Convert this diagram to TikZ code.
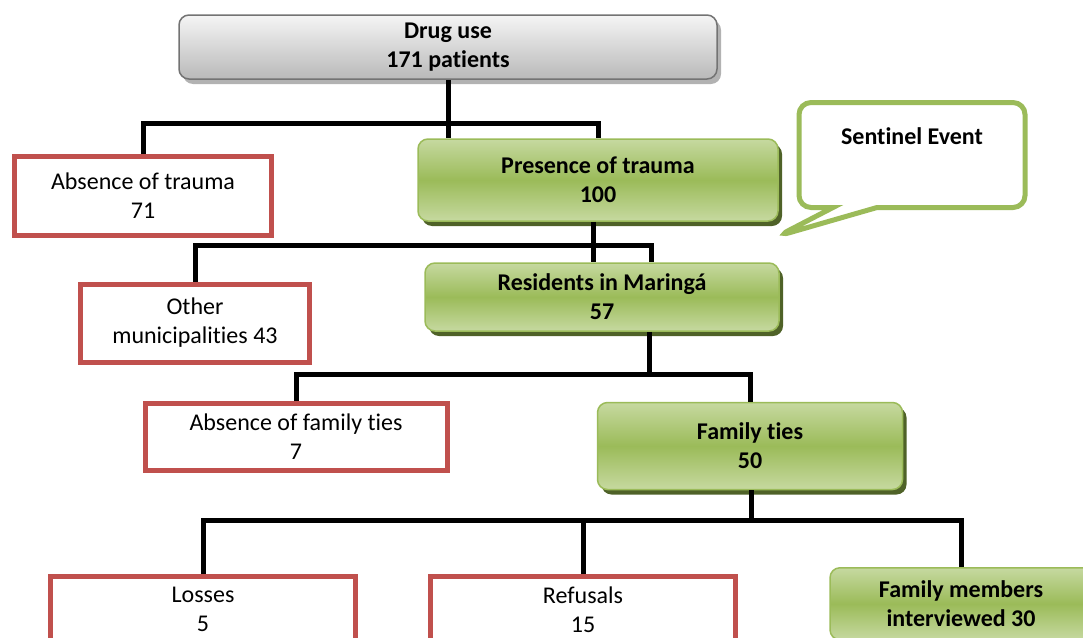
\documentclass[tikz,border=0pt]{standalone}
\usepackage{fontspec}
\setmainfont[Ligatures=NoCommon]{Carlito}
\usetikzlibrary{shapes.callouts, shadows, calc}
\definecolor{boxred}{HTML}{C0504D}
\definecolor{boxgreen}{HTML}{9BBB59}
\definecolor{lightgreen}{HTML}{C6D9A0}
\definecolor{darkgreen}{HTML}{4F6228}
\newcommand{\boxfont}{\fontsize{24}{29}\selectfont}
\tikzset{redbox/.style={draw=boxred, line width=5pt, fill=white, align=center}}
\tikzset{greenbox/.style={draw=boxgreen, line width=1.5pt, rounded corners=10pt, top color=lightgreen, bottom color=lightgreen, middle color=boxgreen, align=center, font=\boxfont\bfseries, drop shadow={shadow xshift=4pt, shadow yshift=-5pt, fill=darkgreen, opacity=1}}}
\tikzset{graybox/.style={draw=gray!90!black, line width=1.5pt, rounded corners=10pt, top color=gray!8, bottom color=gray!55, align=center, font=\boxfont\bfseries, drop shadow={shadow xshift=4pt, shadow yshift=-5pt, fill=gray!60, opacity=1}}}
\tikzset{sentinel/.style={rectangle callout, draw=boxgreen, line width=5pt, fill=white, rounded corners=12pt, font=\boxfont\bfseries}}
\tikzset{link/.style={line width=5pt, black}}

\begin{document}
\begin{tikzpicture}[x=1pt, y=-1pt, font=\boxfont]
\useasboundingbox (0,0) rectangle (1083,637);
\clip (0,0) rectangle (1083,637);

\node[graybox, minimum width=538pt, minimum height=64pt] (drug) at (448,47) {Drug use\\171 patients};
\node[redbox, minimum width=257pt, minimum height=79pt] (absence) at (143,196) {Absence of trauma\\71};
\node[greenbox, minimum width=360pt, minimum height=82pt] (presence) at (598,180) {Presence of trauma\\100};
\node[sentinel, minimum width=226pt, inner ysep=8pt, text height=34pt, text depth=55pt,
  callout absolute pointer={(778,236)}, callout pointer width=44pt] (event) at (912,155) {Sentinel Event};

\node[redbox, minimum width=229pt, minimum height=78pt] (other) at (195,323) {Other\\municipalities 43};
\node[greenbox, minimum width=354pt, minimum height=68pt] (residents) at (602,297) {Residents in Maringá\\57};

\node[redbox, minimum width=302pt, minimum height=67pt] (absfam) at (296,437) {Absence of family ties\\7};
\node[greenbox, minimum width=305pt, minimum height=87pt] (famties) at (750,446) {Family ties\\50};

\node[redbox, anchor=north, minimum width=305pt, minimum height=66pt] (losses) at (203,574) {Losses\\5};
\node[redbox, anchor=north, minimum width=305pt, minimum height=66pt] (refusals) at (583,574) {Refusals\\15};
\node[greenbox, anchor=north, minimum width=262pt, minimum height=72pt] (members) at (961,567) {Family members\\interviewed 30};

% tree links
\coordinate (j1) at (448,123);
\coordinate (j2) at (593,245);
\coordinate (j3) at (649,374);
\coordinate (j4) at (751,520);
\draw[link] (drug.south) -- (drug.south |- presence.north);
\draw[link] (absence.north) |- (j1) -| (presence.north);
\draw[link] (j2 |- presence.south) -- (j2 |- residents.north);
\draw[link] (other.north) |- (j2) -| ([xshift=49pt]residents.north);
\draw[link] (j3 |- residents.south) -- (j3);
\draw[link] (absfam.north) |- (j3) -| (famties.north);
\draw[link] (j4 |- famties.south) -- (j4);
\draw[link] (losses.north) |- (j4) -| (members.north);
\draw[link] (refusals.north) -- (refusals.north |- j4);
\end{tikzpicture}
\end{document}
